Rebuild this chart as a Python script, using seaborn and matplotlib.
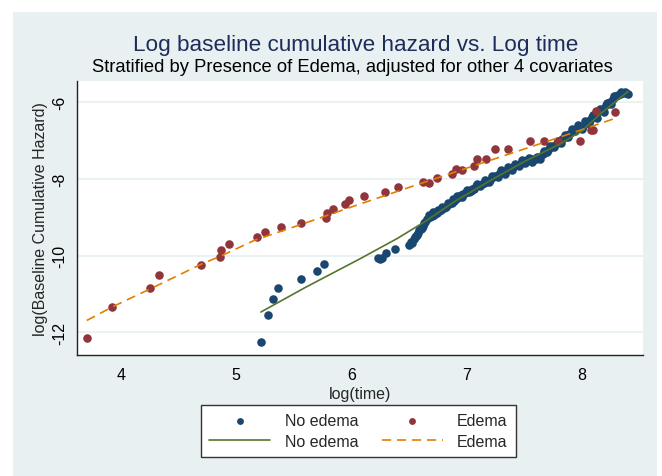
import matplotlib
matplotlib.use("Agg")
import matplotlib.pyplot as plt
from matplotlib.patches import Rectangle
import pandas as pd
import seaborn as sns

# points: (log time, log baseline cumulative hazard)
no_edema_x = [5.215, 5.276, 5.319, 5.365, 5.562, 5.706, 5.761, 6.231, 6.25, 6.266, 6.298, 6.376, 6.50,
              6.52, 6.54, 6.56, 6.58, 6.60, 6.62, 6.64, 6.66, 6.68, 6.70, 6.72, 6.74, 6.76, 6.78, 6.80,
              6.82, 6.85, 6.87, 6.89, 6.91, 6.93, 6.95, 6.97, 6.99, 7.02, 7.04, 7.06, 7.08, 7.10, 7.13,
              7.15, 7.17, 7.20, 7.23, 7.25, 7.28, 7.31, 7.34, 7.37, 7.40, 7.43, 7.46, 7.49, 7.52, 7.55,
              7.58, 7.60, 7.63, 7.66, 7.68, 7.71, 7.73, 7.75, 7.78, 7.81, 7.83, 7.86, 7.89, 7.92, 7.95,
              7.98, 8.01, 8.04, 8.07, 8.09, 8.12, 8.15, 8.18, 8.21, 8.24, 8.27, 8.30, 8.33, 8.36, 8.38, 8.40,
              6.53, 6.55, 6.57, 6.59, 6.61, 6.63,
              6.67, 6.71, 6.75, 6.79, 6.84, 6.88, 6.92, 6.96, 7.00, 7.05, 7.09, 7.12, 7.16, 7.19, 7.22,
              7.27, 7.30, 7.33, 7.36, 7.39, 7.42, 7.45, 7.48, 7.51, 7.54, 7.57, 7.61, 7.64, 7.67, 7.70,
              7.72, 7.76, 7.79, 7.82, 7.85, 7.88, 7.91, 7.94, 7.97, 8.00, 8.03, 8.06, 8.10, 8.13, 8.16,
              8.19, 8.22, 8.25, 8.28, 8.31, 8.34, 8.37]
no_edema_y = [-12.25, -11.55, -11.14, -10.84, -10.60, -10.39, -10.22, -10.07, -10.09, -10.06, -9.93, -9.83, -9.72,
              -9.65, -9.57, -9.48, -9.40, -9.30, -9.22, -9.12, -9.05, -9.00, -8.96, -8.93, -8.88, -8.83, -8.80, -8.76,
              -8.72, -8.66, -8.62, -8.57, -8.52, -8.48, -8.43, -8.39, -8.36, -8.33, -8.31, -8.25, -8.19, -8.16, -8.13,
              -8.11, -8.09, -8.02, -7.96, -7.92, -7.87, -7.83, -7.79, -7.75, -7.70, -7.65, -7.60, -7.55, -7.52, -7.50,
              -7.49, -7.48, -7.42, -7.35, -7.31, -7.24, -7.18, -7.13, -7.07, -7.01, -6.96, -6.90, -6.82, -6.74, -6.69,
              -6.65, -6.61, -6.53, -6.46, -6.39, -6.32, -6.24, -6.17, -6.08, -5.99, -5.91, -5.84, -5.78, -5.77, -5.77, -5.78,
              -9.66, -9.52, -9.45, -9.33, -9.27, -9.16,
              -8.95, -8.87, -8.80, -8.74, -8.62, -8.52, -8.44, -8.46, -8.30, -8.27, -8.12, -8.19, -8.04, -8.08, -7.92,
              -7.94, -7.78, -7.86, -7.70, -7.76, -7.61, -7.66, -7.50, -7.58, -7.46, -7.55, -7.43, -7.48, -7.28, -7.30,
              -7.14, -7.18, -7.00, -7.07, -6.85, -6.90, -6.70, -6.76, -6.60, -6.69, -6.50, -6.55, -6.33, -6.40, -6.18,
              -6.25, -6.02, -6.06, -5.85, -5.80, -5.74, -5.74]

edema_x = [3.705, 3.926, 4.253, 4.334, 4.695, 4.860, 4.866, 4.935, 5.178, 5.247, 5.394, 5.562, 5.776,
           5.793, 5.839, 5.945, 5.980, 6.114, 6.292, 6.402, 6.621, 6.671, 6.743, 6.870, 6.911, 6.959,
           7.067, 7.089, 7.167, 7.249, 7.361, 7.546, 7.667, 7.789, 7.985, 8.083, 8.096, 8.122, 8.285]
edema_y = [-12.15, -11.33, -10.84, -10.51, -10.24, -10.04, -9.86, -9.69, -9.52, -9.39, -9.25, -9.14, -9.01,
           -8.90, -8.78, -8.66, -8.56, -8.44, -8.33, -8.20, -8.09, -8.11, -7.98, -7.87, -7.75, -7.77,
           -7.66, -7.49, -7.49, -7.23, -7.22, -7.00, -7.00, -7.01, -7.00, -6.72, -6.72, -6.23, -6.25]

# smoothed curves, also
no_edema_fit_x = [5.215, 5.60, 6.07, 6.40, 6.65, 6.90, 7.23, 7.50, 7.81, 8.00, 8.15, 8.40]
no_edema_fit_y = [-11.47, -10.83, -10.09, -9.55, -9.09, -8.58, -8.00, -7.55, -7.09, -6.75, -6.33, -5.72]
edema_fit_x = [3.705, 3.93, 4.26, 4.70, 4.86, 5.16, 5.60, 6.07, 6.65, 7.23, 7.81, 8.30]
edema_fit_y = [-11.69, -11.33, -10.86, -10.22, -10.02, -9.60, -9.15, -8.66, -8.07, -7.49, -6.91, -6.41]

x_ticks = [4, 5, 6, 7, 8]
y_ticks = [-12, -10, -8, -6]

NAVY = "#1a476f"
MAROON = "#90353b"
GREEN = "#55752f"
ORANGE = "#e37e00"
REGION = "#e8f0f2"

sns.set_style("white")
plt.rcParams["font.family"] = ["Liberation Sans", "DejaVu Sans"]

fig = plt.figure(figsize=(6.62, 4.77), dpi=100)
fig.patch.set_facecolor("white")
fig.add_artist(Rectangle((13 / 662, 0), 644 / 662, 1 - 13 / 477, transform=fig.transFigure,
                         facecolor=REGION, edgecolor="none", zorder=-10))

ax = fig.add_axes([77 / 662, 1 - 356 / 477, 566 / 662, 274.3 / 477])
ax.set_facecolor("white")

pts_no = pd.DataFrame({"x": no_edema_x, "y": no_edema_y})
pts_ed = pd.DataFrame({"x": edema_x, "y": edema_y})
fit_no = pd.DataFrame({"x": no_edema_fit_x, "y": no_edema_fit_y})
fit_ed = pd.DataFrame({"x": edema_fit_x, "y": edema_fit_y})

sns.scatterplot(data=pts_no, x="x", y="y", color=NAVY, s=38, linewidth=0, ax=ax,
                label="No edema", zorder=3)
sns.scatterplot(data=pts_ed, x="x", y="y", color=MAROON, s=38, linewidth=0, ax=ax,
                label="Edema", zorder=3)
sns.lineplot(data=fit_no, x="x", y="y", sort=False, estimator=None, color=GREEN, lw=1.2,
             ax=ax, label="No edema", zorder=4)
sns.lineplot(data=fit_ed, x="x", y="y", sort=False, estimator=None, color=ORANGE, lw=1.2,
             dashes=(5.5, 3.5), ax=ax, label="Edema", zorder=4)

ax.set_xlim(3.62, 8.53)
ax.set_ylim(-12.59, -5.44)
ax.set_xticks(x_ticks)
ax.set_yticks(y_ticks)
ax.set_yticklabels([str(v) for v in y_ticks], rotation=90, va="center")
ax.grid(axis="y", color="#eaf2f3", lw=1.5)
ax.set_axisbelow(True)
for side in ["top", "right"]:
    ax.spines[side].set_visible(False)
for side in ["left", "bottom"]:
    ax.spines[side].set_color("#222222")
    ax.spines[side].set_linewidth(1.0)
ax.tick_params(axis="both", direction="out", length=5, width=1, color="#222222",
               labelsize=11.5, labelcolor="black")
ax.tick_params(axis="x", pad=4)
ax.tick_params(axis="y", pad=2)

ax.set_xlabel("log(time)", fontsize=11.5)
ax.set_ylabel("log(Baseline Cumulative Hazard)", fontsize=11.5)
ax.xaxis.set_label_coords(0.5, -0.112)
ax.yaxis.set_label_coords(-0.052, 0.5)

handles, labels = ax.get_legend_handles_labels()
ax.get_legend().remove()
order = [0, 2, 1, 3]
fig.legend([handles[i] for i in order], [labels[i] for i in order], ncol=2,
           loc="center", bbox_to_anchor=(358.5 / 662, 1 - 432 / 477), fontsize=11.5,
           frameon=True, fancybox=False, edgecolor="#333333", framealpha=1,
           handlelength=3.8, handletextpad=0.9, columnspacing=1.5, labelspacing=0.35,
           borderpad=0.5, markerscale=0.8)

fig.text(356 / 662, 1 - 45 / 477, "Log baseline cumulative hazard vs. Log time",
         ha="center", va="center", fontsize=16.2, color="#1c2d5a")
fig.text(352 / 662, 1 - 68 / 477, "Stratified by Presence of Edema, adjusted for other 4 covariates",
         ha="center", va="center", fontsize=13.2, color="black")

fig.savefig("out.png", dpi=100)
